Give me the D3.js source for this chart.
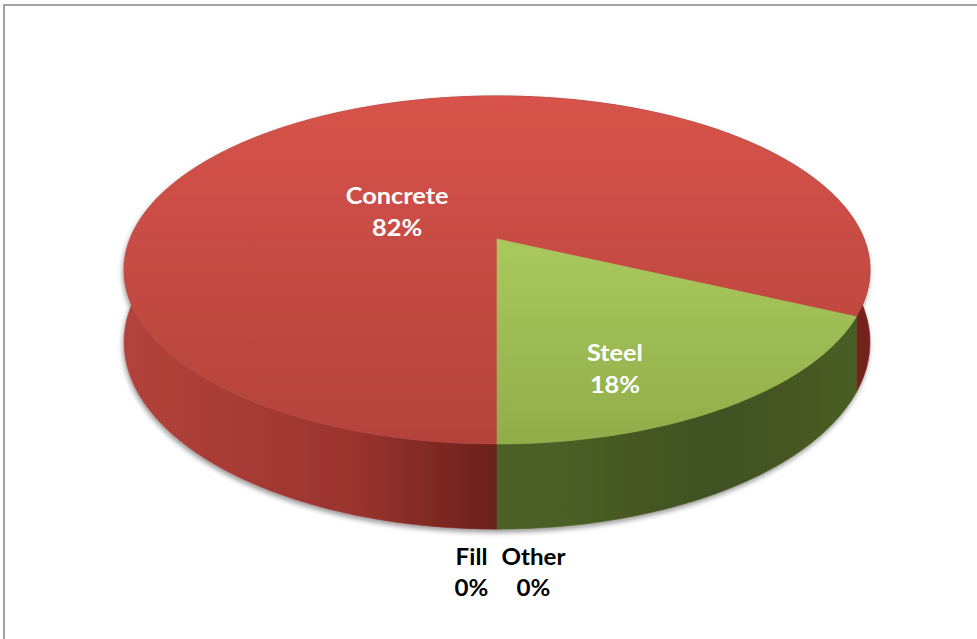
<!DOCTYPE html>
<html>
<head>
<meta charset="utf-8">
<script src="https://cdn.jsdelivr.net/npm/d3@7"></script>
<style>
  html, body { margin: 0; padding: 0; background: #fff; }
  svg { display: block; }
  text { font-family: Lato, "Open Sans", sans-serif; font-weight: 700; }
</style>
</head>
<body>
<svg id="chart" width="977" height="639"></svg>
<script>
// ---- data ----
const categories = ["Concrete", "Steel", "Fill", "Other"];
const values = [82, 18, 0, 0];
const percentLabels = ["82%", "18%", "0%", "0%"];

// ---- styling ----
const topColors  = [["#d7534b", "#b3433b"], ["#a9c95d", "#91ad4a"], ["#888", "#888"], ["#888", "#888"]];
const W = 977, H = 639;
const svg = d3.select("#chart");
svg.append("rect").attr("width", W).attr("height", H).attr("fill", "#fff");
svg.append("rect").attr("x", 4).attr("y", 5).attr("width", W + 20).attr("height", H + 20)
   .attr("fill", "none").attr("stroke", "#a3a3a3").attr("stroke-width", 2);

// ---- 3D geometry (perspective projection of a tilted disc) ----
const cx = 497, cy = 239, R = 367, RY = 168.5, P = 0.178, DEPTH = 70;
function proj(a, r, z) {
  const u = r * Math.sin(a), v = -r * Math.cos(a);
  const w = 1 - P * v;
  return [cx + R * u / w, cy + (RY * v + z) / w];
}
function arcPts(a0, a1, r, z) {
  const n = Math.max(2, Math.ceil(Math.abs(a1 - a0) / 0.01));
  return d3.range(n + 1).map(i => proj(a0 + (a1 - a0) * i / n, r, z));
}

const pie = d3.pie().sort(null).value(d => d).startAngle(Math.PI).endAngle(3 * Math.PI);
const arcs = pie(values);

const defs = svg.append("defs");
const f = defs.append("filter").attr("id", "shadow").attr("x", "-10%").attr("y", "-10%").attr("width", "120%").attr("height", "130%");
f.append("feDropShadow").attr("dx", -1).attr("dy", 3).attr("stdDeviation", 2.5)
  .attr("flood-color", "#000").attr("flood-opacity", 0.4);

// side gradients (horizontal)
const sideStops = [
  [[0, "#b2433b"], [0.3, "#9a342e"], [0.5, "#6b201c"], [0.95, "#6e211d"], [1, "#74231f"]],
  [[0, "#4e6428"], [0.5, "#4b5f25"], [0.6, "#4a5e25"], [0.8, "#3f5120"], [1, "#4b5e25"]],
  [[0, "#666"], [1, "#666"]], [[0, "#666"], [1, "#666"]]
];
sideStops.forEach((stops, i) => {
  const g = defs.append("linearGradient").attr("id", "side" + i)
    .attr("gradientUnits", "userSpaceOnUse").attr("x1", cx - R).attr("x2", cx + R).attr("y1", 0).attr("y2", 0);
  stops.forEach(s => g.append("stop").attr("offset", s[0]).attr("stop-color", s[1]));
});
topColors.forEach((c, i) => {
  const g = defs.append("linearGradient").attr("id", "top" + i)
    .attr("gradientUnits", "userSpaceOnUse").attr("x1", 0).attr("x2", 0)
    .attr("y1", i === 1 ? cy : cy - RY / (1 + P)).attr("y2", cy + RY / (1 - P));
  g.append("stop").attr("offset", 0).attr("stop-color", c[0]);
  g.append("stop").attr("offset", 1).attr("stop-color", c[1]);
});

const line = d3.line();
const pieG = svg.append("g").attr("filter", "url(#shadow)");

// outer walls
arcs.forEach((d, i) => {
  if (d.endAngle - d.startAngle <= 0) return;
  const topRing = arcPts(d.startAngle, d.endAngle, 1, 0);
  const botRing = arcPts(d.endAngle, d.startAngle, 1, DEPTH);
  pieG.append("path").attr("d", line(topRing.concat(botRing)) + "Z")
    .attr("fill", `url(#side${i})`).attr("stroke", `url(#side${i})`).attr("stroke-width", 0.6);
});
// top faces
arcs.forEach((d, i) => {
  if (d.endAngle - d.startAngle <= 0) return;
  const pts = [proj(0, 0, 0)].concat(arcPts(d.startAngle, d.endAngle, 1, 0));
  pieG.append("path").attr("d", line(pts) + "Z")
    .attr("fill", `url(#top${i})`).attr("stroke", `url(#top${i})`).attr("stroke-width", 0.6);
});

// ---- labels ----
const LABEL_R = 0.55, LABEL_DY = 45, LINE = 32;
const labelG = svg.append("g");
arcs.forEach((d, i) => {
  if (d.endAngle - d.startAngle <= 0) return;
  const mid = (d.startAngle + d.endAngle) / 2;
  const [lx, ly] = proj(mid, LABEL_R, 0);
  const t = labelG.append("g").attr("transform", `translate(${lx},${ly + LABEL_DY}) scale(1.1,1)`);
  t.append("text").attr("text-anchor", "middle").attr("y", -8).attr("font-size", 23)
    .attr("fill", "#fff").text(categories[i]);
  t.append("text").attr("text-anchor", "middle").attr("y", -8 + LINE).attr("font-size", 23)
    .attr("fill", "#fff").text(percentLabels[i]);
});
// zero-value slices: labels outside below the pie, side by side
const zeroIdx = arcs.map((d, i) => i).filter(i => arcs[i].endAngle - arcs[i].startAngle <= 0);
const bottom = proj(Math.PI, 1, DEPTH);
const groups = zeroIdx.map(i => {
  const g = labelG.append("g");
  const a = g.append("text").attr("text-anchor", "middle").attr("font-size", 23).attr("fill", "#000").text(categories[i]);
  const b = g.append("text").attr("text-anchor", "middle").attr("y", LINE - 1).attr("font-size", 23).attr("fill", "#000").text(percentLabels[i]);
  const w = Math.max(a.node().getComputedTextLength(), b.node().getComputedTextLength()) * 1.05;
  return {g, w};
});
const GAP = 13;
const total = d3.sum(groups, g => g.w) + GAP * (groups.length - 1);
let xStart = bottom[0] + 13 - total / 2;
groups.forEach(gr => {
  gr.g.attr("transform", `translate(${xStart + gr.w / 2},${bottom[1] + 36}) scale(1.05,1)`);
  xStart += gr.w + GAP;
});
</script>
</body>
</html>
